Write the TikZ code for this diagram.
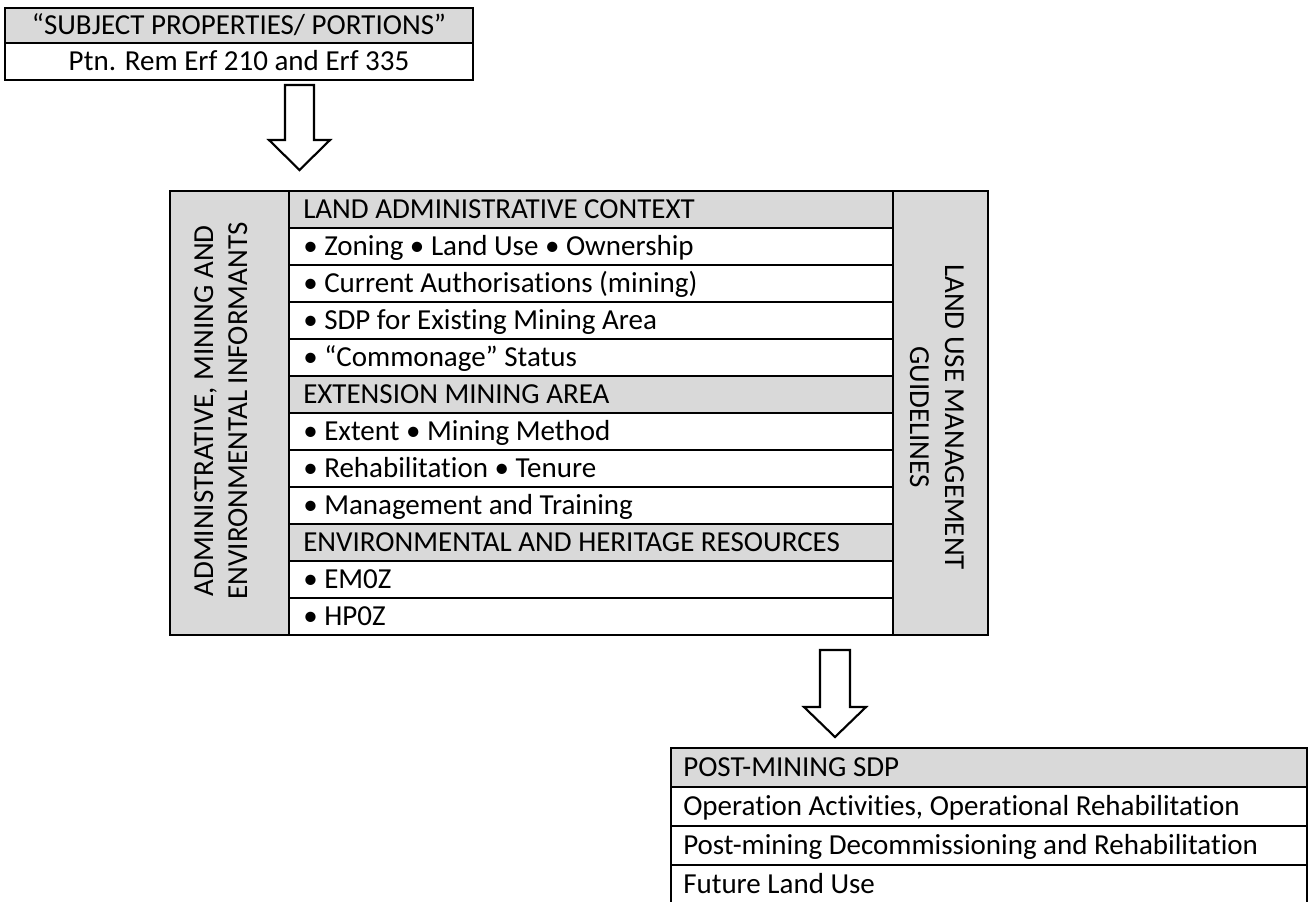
\documentclass[tikz,border=0pt]{standalone}
\usepackage{fontspec}
\setmainfont{Carlito}[Ligatures=CommonOff]
\definecolor{hdr}{HTML}{D9D9D9}
\newcommand\mainfs{\fontsize{21.75}{26}\selectfont}
\begin{document}
\begin{tikzpicture}[x=0.75pt,y=-0.75pt,
  grid/.style={draw=black,line width=1.6pt},
  txt/.style={anchor=base west,inner sep=0pt,font=\mainfs},
  ctxt/.style={anchor=base,inner sep=0pt,font=\mainfs},
  blockarrow/.style={draw=black,fill=white,line width=1.6pt,line join=miter}]
\useasboundingbox (0,0) rectangle (1311,901);
\clip (0,0) rectangle (1311,901);
\fill[white] (0,0) rectangle (1311,901);

% ---------- top box ----------
\fill[hdr] (5,8) rectangle (473,43);
\draw[grid] (5,8) rectangle (473,80);
\draw[grid] (5,43) -- (473,43);
\node[ctxt] (tophead) at (239,34) {“SUBJECT PROPERTIES/ PORTIONS”};
\node[ctxt] (topsub) at (239,70.5) {Ptn. Rem Erf 210 and Erf 335};

% ---------- arrow 1 ----------
\coordinate (a1) at (299.5,85);
\draw[blockarrow] (a1) ++(-14.5,0) -- ++(29,0) -- ++(0,55) -- ++(16,0)
  -- ++(-30.5,30) -- ++(-30.5,-30) -- ++(16,0) -- cycle;

% ---------- main box ----------
\fill[hdr] (170,191) rectangle (289,635);
\fill[hdr] (893,191) rectangle (988,635);
\foreach \k in {1,6,10}{
  \fill[hdr] (289,{191+(\k-1)*37}) rectangle (893,{191+\k*37});
}
\foreach \k in {1,...,11}{
  \draw[grid] (289,{191+\k*37}) -- (893,{191+\k*37});
}
\draw[grid] (289,191) -- (289,635);
\draw[grid] (893,191) -- (893,635);
\draw[grid] (170,191) rectangle (988,635);

\foreach \k/\t in {
  1/LAND ADMINISTRATIVE CONTEXT,
  2/• Zoning • Land Use • Ownership,
  3/• Current Authorisations (mining),
  4/• SDP for Existing Mining Area,
  5/• “Commonage” Status,
  6/EXTENSION MINING AREA,
  7/• Extent • Mining Method,
  8/• Rehabilitation • Tenure,
  9/• Management and Training,
  10/ENVIRONMENTAL AND HERITAGE RESOURCES,
  11/• EM0Z,
  12/• HP0Z}{
  \node[txt] (row\k) at (303,{191+(\k-0.5)*37+8.5}) {\t};
}

\node[ctxt,rotate=90] (left1) at (213,411) {ADMINISTRATIVE, MINING AND};
\node[ctxt,rotate=90] (left2) at (247,411) {ENVIRONMENTAL INFORMANTS};
\node[ctxt,rotate=-90] (right1) at (945,417) {LAND USE MANAGEMENT};
\node[ctxt,rotate=-90] (right2) at (910,417) {GUIDELINES};

% ---------- arrow 2 ----------
\coordinate (a2) at (835,650);
\draw[blockarrow] (a2) ++(-15,0) -- ++(30,0) -- ++(0,57) -- ++(16,0)
  -- ++(-31,30) -- ++(-31,-30) -- ++(16,0) -- cycle;

% ---------- bottom box ----------
\fill[hdr] (671,748) rectangle (1307,787);
\draw[grid] (671,920) -- (671,748) -- (1307,748) -- (1307,920);
\draw[grid] (671,787) -- (1307,787);
\draw[grid] (671,826) -- (1307,826);
\draw[grid] (671,865) -- (1307,865);
\node[txt] (b1) at (683,776) {POST-MINING SDP};
\node[txt] (b2) at (683,815) {Operation Activities, Operational Rehabilitation};
\node[txt] (b3) at (683,854) {Post-mining Decommissioning and Rehabilitation};
\node[txt] (b4) at (683,893) {Future Land Use};
\end{tikzpicture}
\end{document}
